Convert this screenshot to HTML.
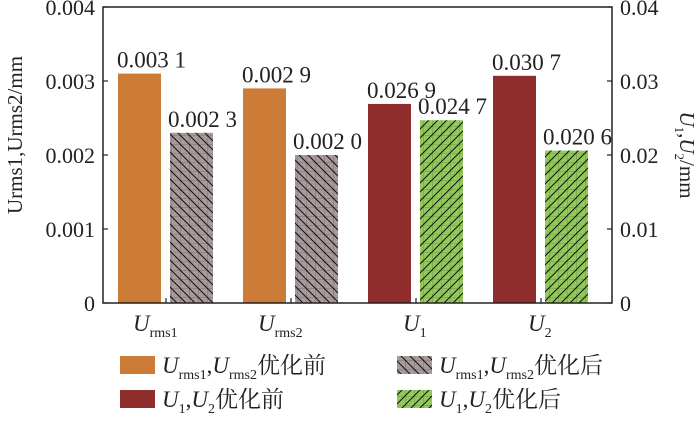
<!DOCTYPE html>
<html><head><meta charset="utf-8"><style>
body{margin:0;background:#fff;}
svg text{font-family:"Liberation Serif","Noto Serif CJK SC",serif;fill:#222;}
</style></head><body>
<svg width="700" height="418" xmlns="http://www.w3.org/2000/svg">
<defs>
<pattern id="pg" width="9" height="9" patternUnits="userSpaceOnUse">
<rect width="9" height="9" fill="#a89a9a"/>
<path d="M0 0H9M0 0V9" stroke="#6e6262" stroke-width="0.8"/>
<path d="M-1 -1L10 10M-1 8L1 10M8 -1L10 1" stroke="#111" stroke-width="1"/>
</pattern>
<pattern id="pgr" width="9" height="9" patternUnits="userSpaceOnUse">
<rect width="9" height="9" fill="#92c95a"/>
<path d="M0 0H9M0 0V9" stroke="#5f8f35" stroke-width="0.8"/>
<path d="M-1 10L10 -1M-1 1L1 -1M8 10L10 8" stroke="#111" stroke-width="1"/>
</pattern>
</defs>
<g id="plot"></g>
</svg>
<script>
const categories=["rms1","rms2","1","2"];
const beforeVals=[0.0031,0.0029,0.0269,0.0307];
const afterVals=[0.0023,0.0020,0.0247,0.0206];
const beforeLabels=["0.003 1","0.002 9","0.026 9","0.030 7"];
const afterLabels=["0.002 3","0.002 0","0.024 7","0.020 6"];
const useRight=[false,false,true,true];
const leftTicks=[0,0.001,0.002,0.003,0.004];
const leftTickLabels=["0","0.001","0.002","0.003","0.004"];
const rightTicks=[0,0.01,0.02,0.03,0.04];
const rightTickLabels=["0","0.01","0.02","0.03","0.04"];

const NS="http://www.w3.org/2000/svg";
const g=document.getElementById('plot');
const X0=103,X1=612,Y0=303,Y1=7;
const yL=v=>Y0-(v/0.004)*(Y0-Y1);
const yR=v=>Y0-(v/0.04)*(Y0-Y1);
const xC=i=>166+i*125;
function el(t,a,txt){const e=document.createElementNS(NS,t);for(const k in a)e.setAttribute(k,a[k]);if(txt!==undefined)e.textContent=txt;g.appendChild(e);return e;}

categories.forEach((c,i)=>{
  const ys=useRight[i]?yR:yL;
  const cx=xC(i);
  let y=ys(beforeVals[i]);
  let r=el('rect',{x:cx-48,y:y,width:43,height:Y0-y,fill:useRight[i]?'#8e2d2b':'#cd7c38'});
  
  
  let t=el('text',{x:cx-49,y:y-6,'font-size':23},beforeLabels[i]);
  
  
  y=ys(afterVals[i]);
  r=el('rect',{x:cx+4,y:y,width:43,height:Y0-y,fill:useRight[i]?'url(#pgr)':'url(#pg)'});
  
  
  t=el('text',{x:cx+2,y:y-6,'font-size':23},afterLabels[i]);
  
  
  const tk=el('line',{x1:cx,x2:cx,y1:Y0,y2:Y0-5,stroke:'#222','stroke-width':1.2});
  
  
  const lb=el('text',{x:cx-33,y:331,'font-size':23,'font-style':'italic'});
  
  
  lb.innerHTML='U<tspan font-size="14" font-style="normal" dy="6">'+c+'</tspan>';
  if(c.length==1) lb.setAttribute('x',cx-13);
});
const fr=el('rect',{x:X0,y:Y1,width:X1-X0,height:Y0-Y1,fill:'none',stroke:'#222','stroke-width':1.5});


leftTicks.forEach((v,i)=>{
  const y=yL(v);
  const l=el('line',{x1:X0,x2:X0+5,y1:y,y2:y,stroke:'#222','stroke-width':1.2});
  
  
  const t=el('text',{x:X0-8,y:y+8,'font-size':22,'text-anchor':'end'},leftTickLabels[i]);
  
  
});
rightTicks.forEach((v,i)=>{
  const y=yR(v);
  const l=el('line',{x1:X1,x2:X1-5,y1:y,y2:y,stroke:'#222','stroke-width':1.2});
  
  
  const t=el('text',{x:X1+8,y:y+8,'font-size':22},rightTickLabels[i]);
  
  
});
let at=el('text',{x:0,y:0,'font-size':21,'text-anchor':'middle',transform:'translate(22,135) rotate(-90)'},'Urms1,Urms2/mm');


at=el('text',{x:0,y:0,'font-size':21,'text-anchor':'middle',transform:'translate(680,155) rotate(90)'});
at.innerHTML='<tspan font-style="italic">U</tspan><tspan font-size="13" dy="5">1</tspan><tspan dy="-5">,</tspan><tspan font-style="italic">U</tspan><tspan font-size="13" dy="5">2</tspan><tspan dy="-5">/mm</tspan>';


const leg=[
 [120,356,'#cd7c38','U<tspan font-size="14" font-style="normal" dy="6">rms1</tspan><tspan font-style="normal" dy="-6">,</tspan>U<tspan font-size="14" font-style="normal" dy="6">rms2</tspan><tspan font-style="normal" dy="-6">优化前</tspan>','legend-before-rms'],
 [397,356,'url(#pg)','U<tspan font-size="14" font-style="normal" dy="6">rms1</tspan><tspan font-style="normal" dy="-6">,</tspan>U<tspan font-size="14" font-style="normal" dy="6">rms2</tspan><tspan font-style="normal" dy="-6">优化后</tspan>','legend-after-rms'],
 [120,390,'#8e2d2b','U<tspan font-size="14" font-style="normal" dy="6">1</tspan><tspan font-style="normal" dy="-6">,</tspan>U<tspan font-size="14" font-style="normal" dy="6">2</tspan><tspan font-style="normal" dy="-6">优化前</tspan>','legend-before-u'],
 [397,390,'url(#pgr)','U<tspan font-size="14" font-style="normal" dy="6">1</tspan><tspan font-style="normal" dy="-6">,</tspan>U<tspan font-size="14" font-style="normal" dy="6">2</tspan><tspan font-style="normal" dy="-6">优化后</tspan>','legend-after-u']
];
leg.forEach(L=>{
  const s=el('rect',{x:L[0],y:L[1],width:35,height:18,fill:L[2]});
  
  
  const t=el('text',{x:L[0]+42,y:L[1]+17,'font-size':23,'font-style':'italic'});
  t.innerHTML=L[3];
  
  
});
</script>
</body></html>
